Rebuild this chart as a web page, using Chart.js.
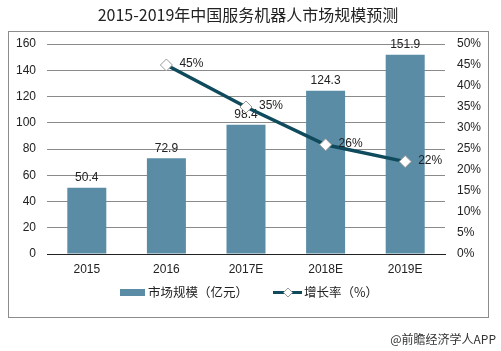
<!DOCTYPE html>
<html>
<head>
<meta charset="utf-8">
<script src="https://cdn.jsdelivr.net/npm/chart.js@4.4.0/dist/chart.umd.min.js"></script>
<style>
html,body{margin:0;padding:0;background:#fff;}
#wrap{width:501px;height:351px;}
</style>
</head>
<body>
<div id="wrap"><canvas id="c" width="501" height="351"></canvas></div>
<script>
const TITLE = '2015-2019年中国服务机器人市场规模预测';
const categories = ['2015', '2016', '2017E', '2018E', '2019E'];
const marketSize = [50.4, 72.9, 98.4, 124.3, 151.9];
const growthRate = [null, 45, 35, 26, 22];
const leftTicks = [0, 20, 40, 60, 80, 100, 120, 140, 160];
const rightTicks = [0, 5, 10, 15, 20, 25, 30, 35, 40, 45, 50];
const seriesNames = ['市场规模（亿元）', '增长率（%）'];
const SOURCE = '@前瞻经济学人APP';

const BAR_COLOR = '#5a8ca6';
const LINE_COLOR = '#0f4b5c';
const LATIN = '"Liberation Sans", Arial, sans-serif';
const CJK = '"Noto Sans CJK SC", "Liberation Sans", sans-serif';

const decor = {
  id: 'decor',
  beforeDraw(chart) {
    const ctx = chart.ctx;
    ctx.save();
    ctx.fillStyle = '#fff';
    ctx.fillRect(0, 0, chart.width, chart.height);
    ctx.strokeStyle = '#8c8c8c';
    ctx.lineWidth = 1;
    ctx.strokeRect(8.5, 31.5, 480, 286);
    ctx.fillStyle = '#222';
    ctx.font = '16px ' + CJK;
    ctx.textAlign = 'center';
    ctx.textBaseline = 'middle';
    ctx.fillText(TITLE, 248, 15);
    ctx.restore();
  },
  afterDatasetDraw(chart, args) {
    const ctx = chart.ctx;
    const meta = args.meta;
    ctx.save();
    ctx.fillStyle = '#222';
    ctx.font = '12px ' + LATIN;
    if (meta.type === 'bar') {
      ctx.textAlign = 'center';
      ctx.textBaseline = 'bottom';
      meta.data.forEach((el, i) => {
        ctx.fillText(marketSize[i].toFixed(1), el.x, el.y - 4);
      });
    }
    ctx.restore();
  },
  afterDatasetsDraw(chart) {
    const ctx = chart.ctx;
    const meta = chart.getDatasetMeta(1);
    ctx.save();
    ctx.fillStyle = '#222';
    ctx.font = '12px ' + LATIN;
    ctx.textAlign = 'left';
    ctx.textBaseline = 'middle';
    meta.data.forEach((el, i) => {
      if (growthRate[i] == null) return;
      ctx.fillText(growthRate[i] + '%', el.x + 13, el.y - 1);
    });
    // legend
    ctx.fillStyle = BAR_COLOR;
    ctx.fillRect(120, 289, 25, 7);
    ctx.fillStyle = '#222';
    ctx.font = '12.5px ' + CJK;
    ctx.fillText(seriesNames[0], 148, 292);
    ctx.strokeStyle = LINE_COLOR;
    ctx.lineWidth = 3;
    ctx.beginPath();
    ctx.moveTo(273, 292.5); ctx.lineTo(302, 292.5);
    ctx.stroke();
    ctx.fillStyle = '#fff';
    ctx.strokeStyle = '#999';
    ctx.lineWidth = 1;
    ctx.beginPath();
    ctx.moveTo(288, 288); ctx.lineTo(292.5, 292.5); ctx.lineTo(288, 297); ctx.lineTo(283.5, 292.5); ctx.closePath();
    ctx.fill(); ctx.stroke();
    ctx.fillStyle = '#222';
    ctx.fillText(seriesNames[1], 304, 292);
    ctx.font = '12px ' + CJK;
    ctx.fillStyle = '#333';
    ctx.textAlign = 'right';
    ctx.fillText(SOURCE, 496, 339);
    ctx.restore();
  }
};

new Chart(document.getElementById('c'), {
  data: {
    labels: categories,
    datasets: [
      {
        type: 'bar',
        label: seriesNames[0],
        data: marketSize,
        backgroundColor: BAR_COLOR,
        yAxisID: 'y',
        barPercentage: 0.49,
        categoryPercentage: 1,
        order: 1
      },
      {
        type: 'line',
        label: seriesNames[1],
        data: growthRate,
        borderColor: LINE_COLOR,
        borderWidth: 3.5,
        tension: 0,
        pointStyle: 'rectRot',
        pointRadius: 6,
        pointBackgroundColor: '#fff',
        pointBorderColor: '#9a9a9a',
        pointBorderWidth: 1,
        yAxisID: 'y1',
        order: 0
      }
    ]
  },
  options: {
    responsive: false,
    animation: false,
    devicePixelRatio: 1,
    layout: { padding: { left: 0, right: 0, top: 44, bottom: 57 } },
    plugins: { legend: { display: false }, title: { display: false }, tooltip: { enabled: false } },
    scales: {
      x: {
        type: 'category',
        grid: { display: false, drawTicks: false },
        border: { display: true, color: '#222', width: 1 },
        ticks: { color: '#222', font: { family: LATIN, size: 12 }, padding: 8, maxRotation: 0 },
        afterFit(s) { s.height = 40; }
      },
      y: {
        position: 'left',
        min: 0, max: 160,
        afterBuildTicks(s) { s.ticks = leftTicks.map(v => ({ value: v })); },
        grid: { color: '#8a8a8a', lineWidth: 1, drawTicks: false },
        border: { display: false },
        ticks: { color: '#222', font: { family: LATIN, size: 12 }, padding: 11 },
        afterFit(s) { s.width = 47; }
      },
      y1: {
        position: 'right',
        min: 0, max: 50,
        afterBuildTicks(s) { s.ticks = rightTicks.map(v => ({ value: v })); },
        grid: { display: false, drawTicks: false },
        border: { display: false },
        ticks: { color: '#222', font: { family: LATIN, size: 12 }, padding: 12, callback: v => v + '%' },
        afterFit(s) { s.width = 56; }
      }
    }
  },
  plugins: [decor]
});
</script>
</body>
</html>
